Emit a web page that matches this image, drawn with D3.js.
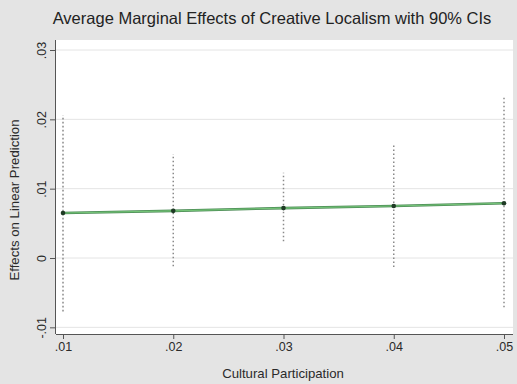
<!DOCTYPE html>
<html><head><meta charset="utf-8">
<script src="https://cdn.jsdelivr.net/npm/d3@7"></script>
<style>body{margin:0;background:#e6e6e6;} svg{display:block;font-family:"Liberation Sans",Arial,sans-serif;}</style>
</head><body>
<svg id="c" width="517" height="384"></svg>
<script>
const xValues = [0.01, 0.02, 0.03, 0.04, 0.05];
const effects = [0.0065, 0.0068, 0.0072, 0.0075, 0.0079];
const ciLower = [-0.0077, -0.0012, 0.0024, -0.0013, -0.0071];
const ciUpper = [0.0206, 0.0150, 0.0123, 0.0164, 0.0231];
const xTickLabels = [".01", ".02", ".03", ".04", ".05"];
const yTicks = [-0.01, 0, 0.01, 0.02, 0.03];
const yTickLabels = ["-.01", "0", ".01", ".02", ".03"];

const svg = d3.select("#c");
const W = 517, H = 384;
svg.append("rect").attr("width", W).attr("height", H).attr("fill", "#e4e4e4");

const plot = {left: 56, top: 40, right: 513, bottom: 334};
const x = d3.scaleLinear().domain([0.01, 0.05]).range([63, 504]);
const y = d3.scaleLinear().domain([0, 0.03]).range([258, 50]);

svg.append("rect").attr("x", plot.left).attr("y", plot.top)
  .attr("width", plot.right - plot.left).attr("height", plot.bottom - plot.top)
  .attr("fill", "#ffffff");

// gridlines
svg.append("g").selectAll("line").data(yTicks).join("line")
  .attr("x1", plot.left).attr("x2", plot.right)
  .attr("y1", d => y(d)).attr("y2", d => y(d))
  .attr("stroke", "#e4e4e4").attr("stroke-width", 1);

const data = xValues.map((v, i) => ({x: v, e: effects[i], lo: ciLower[i], hi: ciUpper[i]}));
// CI dotted lines
svg.append("g").selectAll("line").data(data).join("line")
  .attr("x1", d => x(d.x)).attr("x2", d => x(d.x))
  .attr("y1", d => y(d.lo)).attr("y2", d => y(d.hi))
  .attr("stroke", "#8a8a8a").attr("stroke-width", 1.5)
  .attr("stroke-dasharray", "1.6,2.4");

// line
const line = d3.line().x(d => x(d.x)).y(d => y(d.e));
svg.append("path").datum(data).attr("d", line)
  .attr("fill", "none").attr("stroke", "#4b8a55").attr("stroke-width", 2.6);
svg.append("path").datum(data).attr("d", line)
  .attr("fill", "none").attr("stroke", "#74c477").attr("stroke-width", 1.1);

// points
svg.append("g").selectAll("circle").data(data).join("circle")
  .attr("cx", d => x(d.x)).attr("cy", d => y(d.e)).attr("r", 2.3)
  .attr("fill", "#1e3a24");

// axes
const xAxis = d3.axisBottom(x).tickValues(xValues).tickSize(5).tickPadding(3)
  .tickFormat((d, i) => xTickLabels[i]);
const gx = svg.append("g").attr("transform", `translate(0,${plot.bottom})`).call(xAxis);
gx.select(".domain").attr("d", `M${plot.left},0.5H${plot.right}`).attr("stroke", "#555");
gx.selectAll(".tick line").attr("stroke", "#555");
gx.selectAll("text").attr("font-size", 12.5).attr("fill", "#2a2a2a")
  .attr("font-family", '"Liberation Sans",Arial,sans-serif');

const yAxis = d3.axisLeft(y).tickValues(yTicks).tickSize(5).tickPadding(3)
  .tickFormat((d, i) => yTickLabels[i]);
const gy = svg.append("g").attr("transform", `translate(${plot.left - 1},0)`).call(yAxis);
gy.select(".domain").attr("d", `M0.5,${plot.top}V${plot.bottom}`).attr("stroke", "#555");
gy.selectAll(".tick line").attr("stroke", "#555");
gy.selectAll(".tick text")
  .attr("font-size", 12.5).attr("fill", "#2a2a2a")
  .attr("font-family", '"Liberation Sans",Arial,sans-serif')
  .attr("x", null).attr("y", null).attr("dy", null)
  .attr("transform", "translate(-9,0) rotate(-90)")
  .attr("text-anchor", "middle");

// title
svg.append("text").attr("x", 272).attr("y", 24).attr("text-anchor", "middle")
  .attr("font-size", 16.5).attr("fill", "#222").text("Average Marginal Effects of Creative Localism with 90% CIs");

// axis titles
svg.append("text").attr("x", 283).attr("y", 378).attr("text-anchor", "middle")
  .attr("font-size", 13.2).attr("fill", "#2a2a2a").text("Cultural Participation");
svg.append("text").attr("transform", `translate(19,200) rotate(-90)`).attr("text-anchor", "middle")
  .attr("font-size", 13.2).attr("fill", "#2a2a2a").text("Effects on Linear Prediction");
</script>
</body></html>
